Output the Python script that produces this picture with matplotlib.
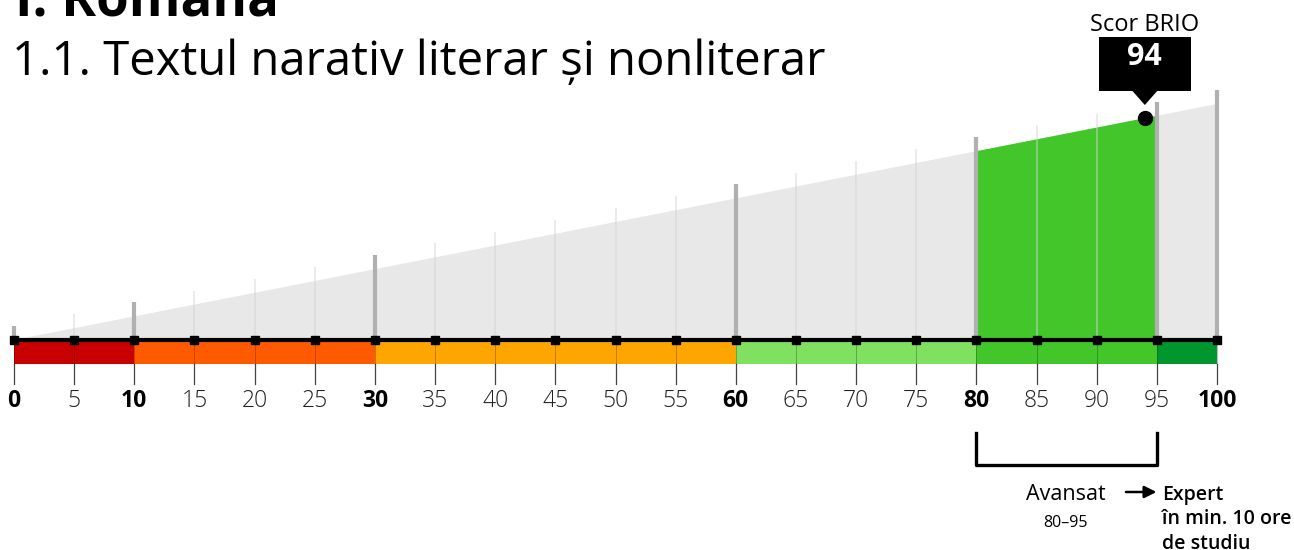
import matplotlib.pyplot as plt
from matplotlib.patches import Polygon, Rectangle

plt.rcParams['font.family'] = ['Open Sans', 'Noto Sans', 'DejaVu Sans']

# data
title = "I. Română"
subtitle = "1.1. Textul narativ literar și nonliterar"
score = 94
score_label = "Scor BRIO"
ticks = list(range(0, 101, 5))
major_ticks = [0, 10, 30, 60, 80, 95, 100]
bold_labels = [0, 10, 30, 60, 80, 100]
band_edges = [0, 10, 30, 60, 80, 95, 100]
band_colors = ["#c80000", "#ff5a00", "#ffa500", "#80e060", "#43c62a", "#00962e"]
level_range = (80, 95)
level_name = "Avansat"
level_text = "80–95"
next_level = "Expert\nîn min. 10 ore\nde studiu"

# scale: wedge height per point, in pixels
k = 2.36

fig = plt.figure(figsize=(12.94, 5.5), dpi=100)
ax = fig.add_axes([0, 0, 1, 1])
ax.set_xlim(-14 / 12.03, 100 + 77 / 12.03)
ax.set_ylim(-210, 340)
ax.axis('off')

# grey wedge
ax.add_patch(Polygon([(0, 0), (100, 100 * k), (100, 0)], closed=True,
                     facecolor="#e8e8e8", edgecolor="none", zorder=1))

# green fill for the achieved level
lo, hi = level_range
ax.add_patch(Polygon([(lo, 0), (lo, lo * k), (hi, hi * k), (hi, 0)], closed=True,
                     facecolor="#43c62a", edgecolor="none", zorder=2))

# vertical grid lines
for t in ticks:
    top = t * k + 14
    if t in major_ticks:
        ax.plot([t, t], [0, top], color="#b0b0b0", lw=3, zorder=3, solid_capstyle='butt')
    else:
        ax.plot([t, t], [0, top], color="#d4d4d4", lw=1.1, alpha=0.6, zorder=3,
                solid_capstyle='butt')

# colour band
for i, c in enumerate(band_colors):
    ax.add_patch(Rectangle((band_edges[i], -24), band_edges[i + 1] - band_edges[i], 24,
                           facecolor=c, edgecolor="none", zorder=4))

# ticks below band
for t in ticks:
    ax.plot([t, t], [-24, -44], color="#444444", lw=0.9, zorder=5)
    ax.plot([t, t], [0, -24], color="#000000", lw=0.7, alpha=0.25, zorder=5)

# baseline with square markers
ax.plot([0, 100], [0, 0], color="black", lw=3, zorder=6, solid_capstyle='butt')
ax.plot(ticks, [0] * len(ticks), ls="none", marker="s", ms=5.5, color="black", zorder=7)

# tick labels
for t in ticks:
    if t in bold_labels:
        ax.text(t, -61, str(t), ha="center", va="center", fontsize=16.5,
                fontweight="bold", zorder=8)
    else:
        ax.text(t, -61, str(t), ha="center", va="center", fontsize=16.5,
                fontweight="light", color="#222222", zorder=8)

# score marker and callout
ax.plot([score], [score * k], marker="o", ms=10, color="black", zorder=9)
ax.add_patch(Rectangle((score - 3.8, 249), 7.6, 54, facecolor="black", edgecolor="none",
                       zorder=9))
ax.add_patch(Polygon([(score - 1.1, 250), (score + 1.1, 250), (score, 235)], closed=True,
                     facecolor="black", edgecolor="none", zorder=9))
ax.text(score, 283, str(score), ha="center", va="center", fontsize=22, fontweight="bold",
        color="white", zorder=10)
ax.text(score, 315, score_label, ha="center", va="center", fontsize=17, zorder=10)

# titles
ax.text(0.1, 325, title, ha="left", va="baseline", fontsize=38, fontweight="bold")
ax.text(-0.15, 265, subtitle, ha="left", va="baseline", fontsize=34)

# bracket under level range
ax.plot([lo, lo, hi, hi], [-93, -125, -125, -93], color="black", lw=2.4, zorder=6)
mid = (lo + hi) / 2
ax.text(mid - 0.1, -154, level_name, ha="center", va="center", fontsize=15.5)
ax.text(mid - 0.1, -183, level_text, ha="center", va="center", fontsize=11.5)
ax.annotate("", xy=(hi + 0.2, -152), xytext=(hi - 2.8, -152),
            arrowprops=dict(arrowstyle="-|>", color="black", lw=1.8, mutation_scale=18))
ax.text(hi + 0.45, -145, next_level, ha="left", va="top", fontsize=14,
        fontweight="semibold", linespacing=1.3)

fig.savefig("out.png", dpi=100)
